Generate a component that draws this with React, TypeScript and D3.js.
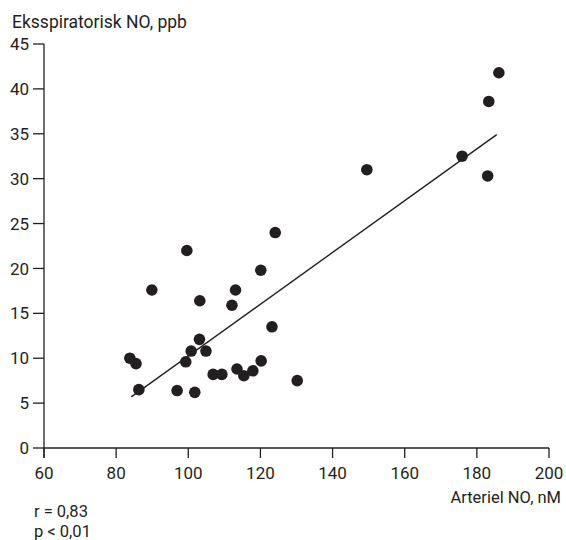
import React, { useEffect, useRef } from "react";
import * as d3 from "d3";

// arteriel NO (nM) og eksspiratorisk NO (ppb)
const arterielNO = [
  124.1, 99.6, 120.1, 89.9, 113.1, 103.2, 112.1, 123.2, 103.1, 100.8, 104.9,
  83.8, 85.5, 99.3, 120.2, 106.9, 109.3, 113.5, 117.9, 115.4, 130.2, 86.3,
  96.9, 101.8, 186.1, 183.3, 175.9, 149.5, 183.0,
];
const eksspNO = [
  24.0, 22.0, 19.8, 17.6, 17.6, 16.4, 15.9, 13.5, 12.1, 10.8, 10.8, 10.0, 9.4,
  9.6, 9.7, 8.2, 8.2, 8.8, 8.6, 8.05, 7.5, 6.5, 6.4, 6.2, 41.8, 38.6, 32.5,
  31.0, 30.3,
];
// regressionslinje (start- og slutpunkt)
const fitX = [84.2, 185.5];
const fitY = [5.7, 34.9];

const xTicks = [60, 80, 100, 120, 140, 160, 180, 200];
const yTicks = [0, 5, 10, 15, 20, 25, 30, 35, 40, 45];
const stats = ["r = 0,83", "p < 0,01"];

const W = 566;
const H = 540;
const ink = "#231f20";
const font = "Roboto, sans-serif";

export default function App() {
  const ref = useRef<SVGSVGElement>(null);

  useEffect(() => {
    const svg = d3.select(ref.current);
    svg.selectAll("*").remove();

    const x = d3.scaleLinear().domain([60, 200]).range([44, 549]);
    const y = d3.scaleLinear().domain([0, 45]).range([448, 44]);

    const g = svg.append("g").attr("font-family", font).attr("fill", ink);

    // y-akse
    g.append("line")
      .attr("x1", x(60)).attr("x2", x(60))
      .attr("y1", y(45)).attr("y2", y(0) + 10)
      .attr("stroke", ink).attr("stroke-width", 1.3);
    g.selectAll(".yt")
      .data(yTicks)
      .join("line")
      .attr("x1", x(60) - 11).attr("x2", x(60))
      .attr("y1", (d) => y(d)).attr("y2", (d) => y(d))
      .attr("stroke", ink).attr("stroke-width", 1.3);
    g.selectAll(".yl")
      .data(yTicks)
      .join("text")
      .attr("x", x(60) - 15)
      .attr("y", (d) => y(d))
      .attr("dy", "0.36em")
      .attr("text-anchor", "end")
      .attr("font-size", 17)
      .text((d) => d);

    // x-akse
    g.append("line")
      .attr("x1", x(60)).attr("x2", x(200))
      .attr("y1", y(0)).attr("y2", y(0))
      .attr("stroke", ink).attr("stroke-width", 1.3);
    g.selectAll(".xt")
      .data(xTicks)
      .join("line")
      .attr("x1", (d) => x(d)).attr("x2", (d) => x(d))
      .attr("y1", y(0)).attr("y2", y(0) + 10)
      .attr("stroke", ink).attr("stroke-width", 1.3);
    g.selectAll(".xl")
      .data(xTicks)
      .join("text")
      .attr("x", (d) => x(d))
      .attr("y", y(0) + 31)
      .attr("text-anchor", "middle")
      .attr("font-size", 17)
      .text((d) => d);

    // aksetitler
    g.append("text")
      .attr("x", 12).attr("y", 28)
      .attr("font-size", 17.5)
      .text("Eksspiratorisk NO, ppb");
    g.append("text")
      .attr("x", 561).attr("y", 503)
      .attr("text-anchor", "end")
      .attr("font-size", 16.5)
      .text("Arteriel NO, nM");

    // regressionslinje
    const line = d3.line<number>()
      .x((d) => x(d))
      .y((_, i) => y(fitY[i]));
    g.append("path")
      .attr("d", line(fitX))
      .attr("fill", "none")
      .attr("stroke", ink)
      .attr("stroke-width", 1.4);

    // punkter
    g.selectAll(".pt")
      .data(arterielNO)
      .join("circle")
      .attr("cx", (d) => x(d))
      .attr("cy", (_, i) => y(eksspNO[i]))
      .attr("r", 5.8)
      .attr("fill", ink);

    // statistik
    g.selectAll(".st")
      .data(stats)
      .join("text")
      .attr("x", 34)
      .attr("y", (_, i) => 517 + i * 20)
      .attr("font-size", 16.5)
      .text((d) => d);
  }, []);

  return (
    <svg
      ref={ref}
      width={W}
      height={H}
      style={{ position: "absolute", left: 0, top: 0, background: "#fff" }}
    />
  );
}
